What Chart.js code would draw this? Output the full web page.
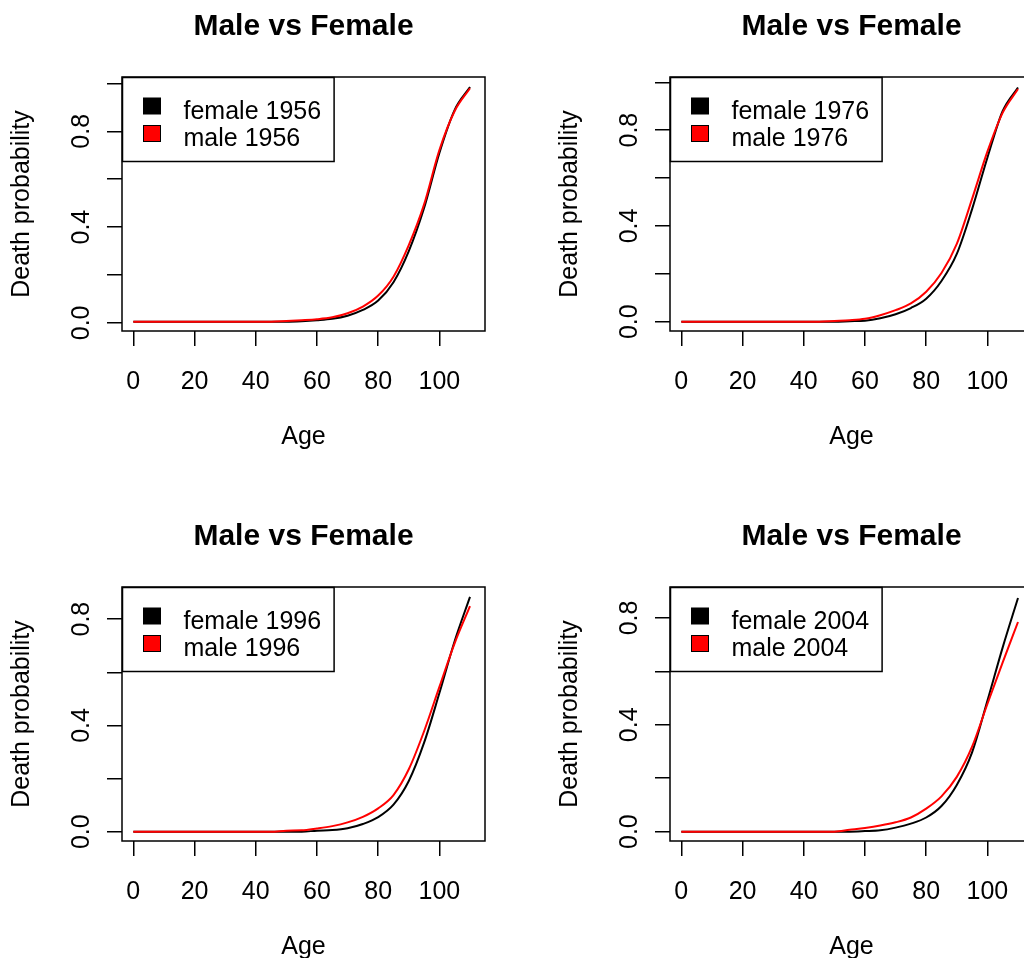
<!DOCTYPE html>
<html>
<head>
<meta charset="utf-8">
<title>Male vs Female death probability</title>
<script src="https://cdn.jsdelivr.net/npm/chart.js@4"></script>
<style>
  body { margin: 0; background: #fff; }
  #wrap { position: relative; width: 1024px; height: 958px; overflow: hidden; background: #fff; }
  #wrap canvas { position: absolute; }
</style>
</head>
<body>
<div id="wrap">
  <canvas id="c1956" width="548" height="510" style="left:0px;top:0px"></canvas>
  <canvas id="c1976" width="548" height="510" style="left:548px;top:0px"></canvas>
  <canvas id="c1996" width="548" height="510" style="left:0px;top:510px"></canvas>
  <canvas id="c2004" width="548" height="510" style="left:548px;top:510px"></canvas>
</div>
<script>
// ages shared by every life table
const ages = [0, 10, 20, 30, 40, 45, 50, 55, 60, 65, 70, 75, 80, 85, 90, 95, 100, 105, 110];

const female1956 = [0.005, 0.005, 0.005, 0.005, 0.005, 0.005, 0.005, 0.007, 0.011, 0.017, 0.030, 0.054, 0.093, 0.170, 0.300, 0.480, 0.710, 0.890, 0.985];
const male1956   = [0.005, 0.005, 0.005, 0.005, 0.005, 0.005, 0.008, 0.011, 0.015, 0.023, 0.040, 0.068, 0.114, 0.193, 0.325, 0.495, 0.722, 0.885, 0.980];

const female1976 = [0, 0, 0, 0, 0, 0, 0, 0.002, 0.004, 0.014, 0.031, 0.057, 0.096, 0.170, 0.283, 0.470, 0.685, 0.880, 0.978];
const male1976   = [0, 0, 0, 0, 0, 0, 0.003, 0.006, 0.012, 0.027, 0.048, 0.076, 0.125, 0.203, 0.325, 0.513, 0.710, 0.873, 0.972];

const female1996 = [0, 0, 0, 0, 0, 0, 0, 0, 0.004, 0.006, 0.013, 0.029, 0.055, 0.102, 0.191, 0.335, 0.522, 0.718, 0.884];
const male1996   = [0, 0, 0, 0, 0, 0, 0.004, 0.005, 0.012, 0.021, 0.035, 0.056, 0.088, 0.138, 0.235, 0.378, 0.545, 0.710, 0.849];

const female2004 = [0, 0, 0, 0, 0, 0, 0, 0, 0.002, 0.005, 0.015, 0.030, 0.053, 0.096, 0.175, 0.297, 0.490, 0.690, 0.875];
const male2004   = [0, 0, 0, 0, 0, 0, 0, 0.007, 0.014, 0.023, 0.035, 0.053, 0.086, 0.132, 0.205, 0.318, 0.478, 0.634, 0.785];

const xTicks = [0, 20, 40, 60, 80, 100];
const yTicks = [0, 0.2, 0.4, 0.6, 0.8, 1.0];
const yLabelled = [0, 0.4, 0.8];

const FONT = "'Liberation Sans', Arial, Helvetica, sans-serif";

// frame round the plot region plus the boxed legend in its top-left corner
const framePlugin = {
  id: 'frame',
  afterDraw(chart) {
    const { ctx, chartArea: a } = chart;
    ctx.save();
    ctx.strokeStyle = '#000';
    ctx.lineWidth = 1.5;
    ctx.strokeRect(a.left, a.top, a.right - a.left, a.bottom - a.top);

    const lx = a.left + 0.5, ly = a.top + 0.5;
    ctx.font = '25px ' + FONT;
    const tw = Math.max(...chart.data.datasets.map(d => ctx.measureText(d.label).width));
    const w = 61 + tw + 13, h = 84;
    ctx.fillStyle = '#fff';
    ctx.fillRect(lx, ly, w, h);
    ctx.strokeRect(lx, ly, w, h);

    chart.data.datasets.forEach((d, i) => {
      const sy = ly + 20.5 + i * 27.5;
      ctx.fillStyle = d.borderColor;
      ctx.fillRect(lx + 21, sy, 17, 16);
      ctx.lineWidth = 1;
      ctx.strokeRect(lx + 21, sy, 17, 16);
      ctx.fillStyle = '#000';
      ctx.textBaseline = 'alphabetic';
      ctx.textAlign = 'left';
      ctx.fillText(d.label, lx + 61, ly + 41 + i * 27.8);
    });
    ctx.restore();
  }
};

function panel(id, year, female, male, yMin, yMax) {
  const pts = vals => ages.map((a, i) => ({ x: a, y: vals[i] }));
  const line = (label, colour, vals, order) => ({
    label, data: pts(vals), borderColor: colour, backgroundColor: colour,
    borderWidth: 2, pointRadius: 0, fill: false, order,
    cubicInterpolationMode: 'monotone'
  });

  return new Chart(document.getElementById(id), {
    type: 'line',
    data: {
      datasets: [
        line('female ' + year, '#000000', female, 1),
        line('male ' + year, '#ff0000', male, 0)
      ]
    },
    options: {
      responsive: false,
      animation: false,
      events: [],
      layout: { padding: { left: 0, right: 63, top: 0, bottom: 0 } },
      plugins: {
        legend: { display: false },
        tooltip: { enabled: false },
        title: {
          display: true, text: 'Male vs Female', fullSize: false, color: '#000',
          font: { family: FONT, size: 30, weight: 'bold' },
          padding: { top: 9, bottom: 32 }
        }
      },
      scales: {
        x: {
          type: 'linear', min: -3.7, max: 114.9,
          afterBuildTicks: s => { s.ticks = xTicks.map(v => ({ value: v })); },
          afterFit: s => { s.height = 179; },
          grid: { drawOnChartArea: false, color: '#000', lineWidth: 1.5, tickLength: 15 },
          border: { display: false },
          ticks: { color: '#000', font: { family: FONT, size: 25 }, padding: 21, autoSkip: false, maxRotation: 0 },
          title: { display: true, text: 'Age', color: '#000', font: { family: FONT, size: 25 }, padding: { top: 0, bottom: 58 } }
        },
        y: {
          type: 'linear', min: yMin, max: yMax,
          afterBuildTicks: s => { s.ticks = yTicks.filter(v => v <= yMax).map(v => ({ value: v })); },
          afterFit: s => { s.width = 122; },
          grid: { drawOnChartArea: false, color: '#000', lineWidth: 1.5, tickLength: 15 },
          border: { display: false },
          ticks: {
            color: '#000', font: { family: FONT, size: 25 }, padding: 8, autoSkip: false,
            minRotation: 90, maxRotation: 90, crossAlign: 'center',
            callback: v => yLabelled.some(l => Math.abs(l - v) < 1e-9) ? v.toFixed(1) : ''
          },
          title: { display: true, text: 'Death probability', color: '#000', font: { family: FONT, size: 25 }, padding: { top: 7, bottom: 0 } }
        }
      }
    },
    plugins: [framePlugin]
  });
}

panel('c1956', 1956, female1956, male1956, -0.034, 1.027);
panel('c1976', 1976, female1976, male1976, -0.039, 1.022);
panel('c1996', 1996, female1996, male1996, -0.035, 0.921);
panel('c2004', 2004, female2004, male2004, -0.035, 0.916);
</script>
</body>
</html>
